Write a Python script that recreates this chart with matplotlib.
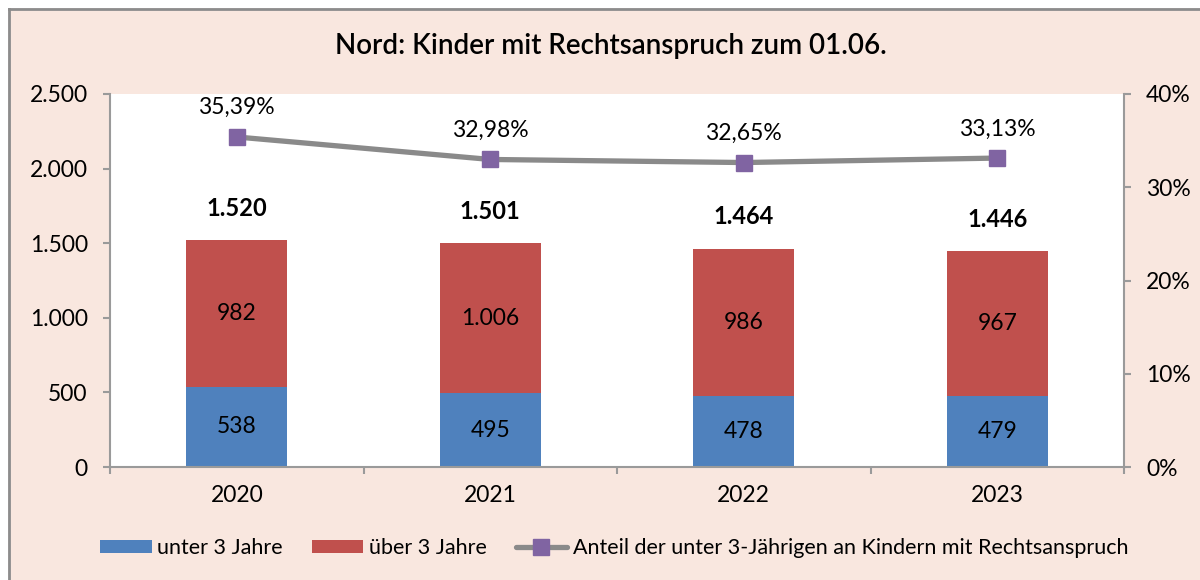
import matplotlib
matplotlib.use('Agg')
import matplotlib.pyplot as plt
from matplotlib.lines import Line2D
from matplotlib.patches import Patch
from matplotlib.ticker import FuncFormatter, FixedLocator

plt.rcParams['font.family'] = ['Lato', 'DejaVu Sans']

jahre = ['2020', '2021', '2022', '2023']
unter3 = [538, 495, 478, 479]
ueber3 = [982, 1006, 986, 967]
gesamt = [1520, 1501, 1464, 1446]
anteil = [35.39, 32.98, 32.65, 33.13]

BG = '#F9E7DF'
BLUE = '#4F81BD'
RED = '#C0504D'
GRAY = '#8A8A8A'
PURPLE = '#8064A2'
AXIS = '#9A9A9A'


def de_num(v):
    return f'{v:,.0f}'.replace(',', '.')


fig = plt.figure(figsize=(12, 5.8), dpi=100, facecolor=BG)
ax = fig.add_axes([110 / 1200, 1 - 467 / 580, 1014 / 1200, 373 / 580])
ax.set_facecolor('white')

x = list(range(len(jahre)))
ax.bar(x, unter3, width=0.4, color=BLUE, zorder=2)
ax.bar(x, ueber3, width=0.4, bottom=unter3, color=RED, zorder=2)

for xi, u, o, g in zip(x, unter3, ueber3, gesamt):
    ax.text(xi, u / 2, de_num(u), ha='center', va='center', fontsize=16.5, color='black', zorder=3)
    ax.text(xi, u + o / 2, de_num(o), ha='center', va='center', fontsize=16.5, color='black', zorder=3)
    ax.annotate(de_num(g), (xi, g), xytext=(0, 23), textcoords='offset points',
                ha='center', va='center', fontsize=17, fontweight='bold', color='black')

ax.set_xlim(-0.5, 3.5)
ax.set_ylim(0, 2500)
ax.yaxis.set_major_locator(FixedLocator([0, 500, 1000, 1500, 2000, 2500]))
ax.yaxis.set_major_formatter(FuncFormatter(lambda v, p: de_num(v)))
ax.set_xticks(x)
ax.set_xticklabels(jahre)
ax.set_xticks([0.5, 1.5, 2.5, 3.5, -0.5], minor=True)
ax.tick_params(axis='x', which='major', length=0, labelsize=16.5, pad=13)
ax.tick_params(axis='x', which='minor', length=5, color=AXIS, width=1.5)
ax.tick_params(axis='y', length=5, color=AXIS, width=1.5, labelsize=16.5, pad=11)
for side in ['top', 'right']:
    ax.spines[side].set_visible(False)
for side in ['left', 'bottom']:
    ax.spines[side].set_color(AXIS)
    ax.spines[side].set_linewidth(1.5)

ax2 = ax.twinx()
ax2.set_ylim(0, 40)
ax2.yaxis.set_major_locator(FixedLocator([0, 10, 20, 30, 40]))
ax2.yaxis.set_major_formatter(FuncFormatter(lambda v, p: f'{v:.0f}%'))
ax2.tick_params(axis='y', length=5, color=AXIS, width=1.5, labelsize=16.5, pad=11)
for side in ['top', 'left', 'bottom']:
    ax2.spines[side].set_visible(False)
ax2.spines['right'].set_color(AXIS)
ax2.spines['right'].set_linewidth(1.5)

ax2.plot(x, anteil, color=GRAY, linewidth=3.8, marker='s', markersize=11,
         markerfacecolor=PURPLE, markeredgecolor=PURPLE, solid_capstyle='round', zorder=4)
for xi, a in zip(x, anteil):
    ax2.annotate(f'{a:.2f}%'.replace('.', ','), (xi, a), xytext=(0, 21), textcoords='offset points',
                 ha='center', va='center', fontsize=16.5, color='black')

fig.text(611 / 1200, 1 - 46 / 580, 'Nord: Kinder mit Rechtsanspruch zum 01.06.',
         ha='center', va='center', fontsize=20, fontweight='semibold', color='black')

handles = [
    Patch(facecolor=BLUE, edgecolor='none'),
    Patch(facecolor=RED, edgecolor='none'),
    Line2D([0], [0], color=GRAY, linewidth=3.8, marker='s', markersize=11,
           markerfacecolor=PURPLE, markeredgecolor=PURPLE, solid_capstyle='round'),
]
labels = ['unter 3 Jahre', 'über 3 Jahre',
          'Anteil der unter 3-Jährigen an Kindern mit Rechtsanspruch']
fig.legend(handles, labels, loc='center', bbox_to_anchor=(614 / 1200, 1 - 548 / 580), ncol=3,
           frameon=False, fontsize=15.5, handlelength=2.4, handleheight=0.6, handletextpad=0.25,
           columnspacing=1.35)

# frame lines along the top and left edge
fig.add_artist(Line2D([9 / 1200, 9 / 1200], [0, 1 - 9 / 580], transform=fig.transFigure,
                      color='#8C8C8C', linewidth=2))
fig.add_artist(Line2D([9 / 1200, 1], [1 - 9 / 580, 1 - 9 / 580], transform=fig.transFigure,
                      color='#8C8C8C', linewidth=2))
fig.add_artist(plt.Rectangle((0, 0), 8 / 1200, 1, transform=fig.transFigure,
                             facecolor='white', edgecolor='none'))
fig.add_artist(plt.Rectangle((0, 1 - 8 / 580), 1, 8 / 580, transform=fig.transFigure,
                             facecolor='white', edgecolor='none'))

fig.savefig('out.png', dpi=100, facecolor=BG)
